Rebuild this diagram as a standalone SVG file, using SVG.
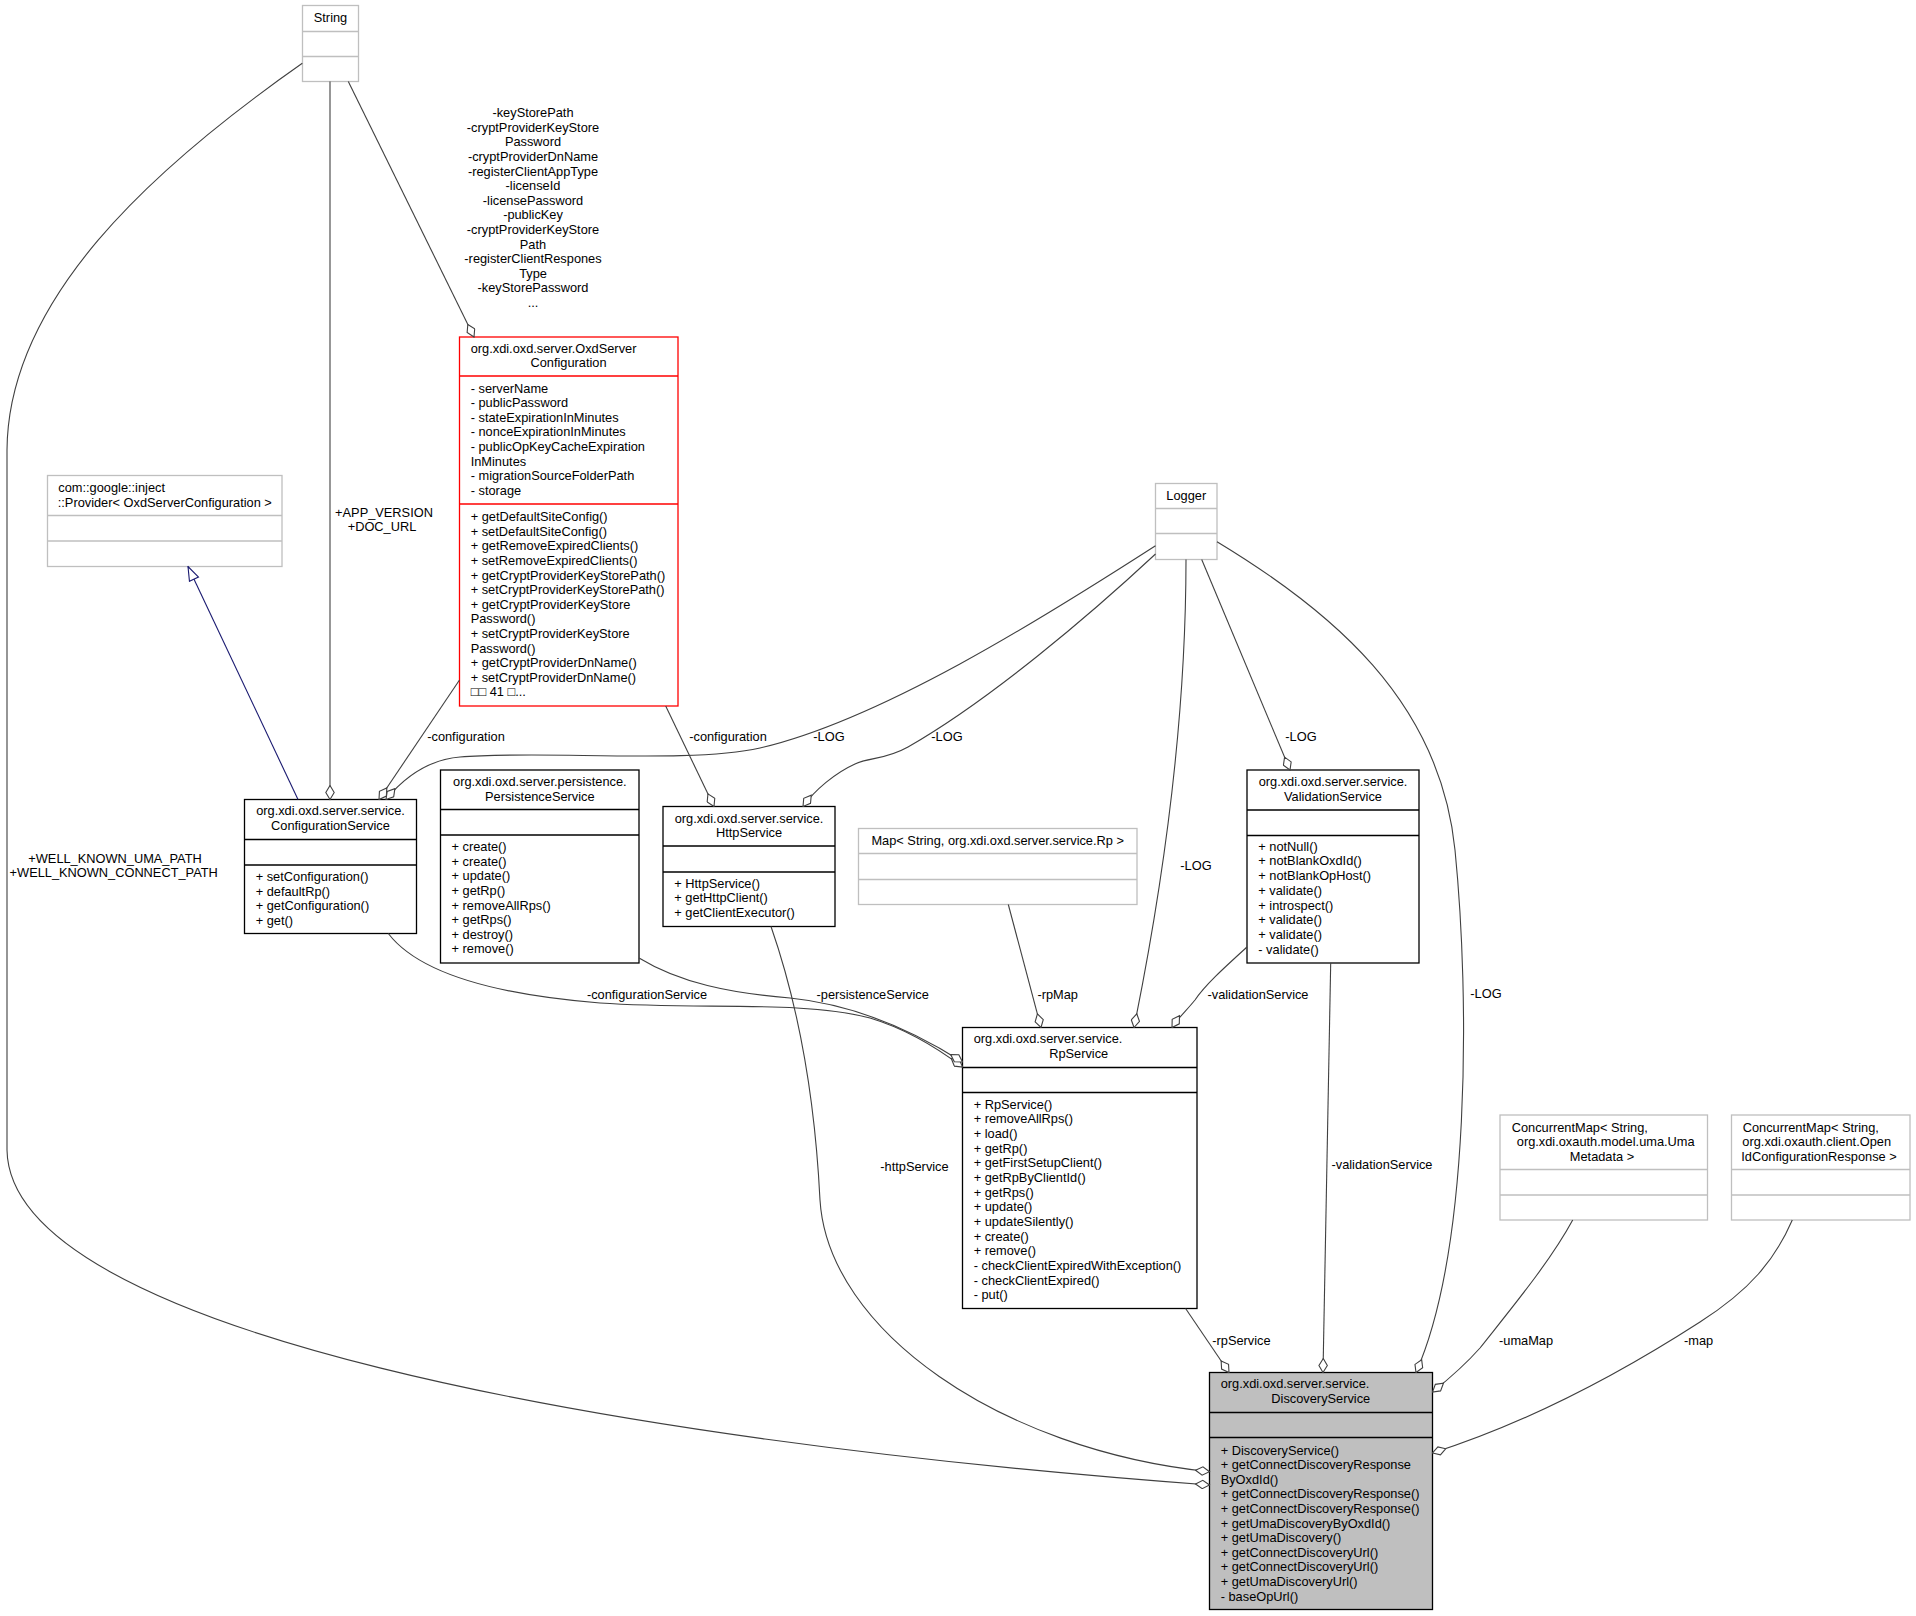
<svg xmlns="http://www.w3.org/2000/svg" width="1916" height="1616" viewBox="0 0 1916 1616">
<style>
text{font-family:"Liberation Sans",Arial,sans-serif;font-size:12.8px;fill:#000}
.m{text-anchor:middle}
.g{fill:#fff;stroke:#bfbfbf;stroke-width:1.3}
.gl{stroke:#bfbfbf;stroke-width:1.3}
.b{fill:#fff;stroke:#000;stroke-width:1.3}
.bl{stroke:#000;stroke-width:1.3}
.r{fill:#fff;stroke:#ff0000;stroke-width:1.3}
.rl{stroke:#ff0000;stroke-width:1.3}
.ds{fill:#bfbfbf;stroke:#000;stroke-width:1.3}
.e{fill:none;stroke:#404040;stroke-width:1.1;marker-end:url(#dia)}
.inh{fill:none;stroke:#191970;stroke-width:1.1;marker-end:url(#tri)}
</style>
<defs>
<marker id="dia" viewBox="0 0 16 10" markerWidth="16" markerHeight="10" refX="15" refY="5" orient="auto" markerUnits="userSpaceOnUse"><path d="M1,5 L8,0.8 L15,5 L8,9.2 Z" fill="#fff" stroke="#404040" stroke-width="1.1"/></marker>
<marker id="tri" viewBox="0 0 16 12" markerWidth="16" markerHeight="12" refX="15" refY="6" orient="auto" markerUnits="userSpaceOnUse"><path d="M1,1 L15,6 L1,11 Z" fill="#fff" stroke="#191970" stroke-width="1.1"/></marker>
</defs>
<rect width="1916" height="1616" fill="#fff"/>

<g id="n-string">
<rect class="g" x="302.5" y="5.5" width="56" height="76"/>
<line class="gl" x1="302.5" y1="31.5" x2="358.5" y2="31.5"/>
<line class="gl" x1="302.5" y1="56.5" x2="358.5" y2="56.5"/>
<text class="m" x="330.5" y="22">String</text>
</g>

<g id="n-oxdserverconfiguration">
<rect class="r" x="459.5" y="337" width="218.5" height="369"/>
<line class="rl" x1="459.5" y1="376" x2="678" y2="376"/>
<line class="rl" x1="459.5" y1="504" x2="678" y2="504"/>
<text x="470.7" y="352.5">org.xdi.oxd.server.OxdServer</text>
<text class="m" x="568.5" y="367">Configuration</text>
<text x="470.7" y="392.5">- serverName</text>
<text x="470.7" y="407.1">- publicPassword</text>
<text x="470.7" y="421.7">- stateExpirationInMinutes</text>
<text x="470.7" y="436.3">- nonceExpirationInMinutes</text>
<text x="470.7" y="450.9">- publicOpKeyCacheExpiration</text>
<text x="470.7" y="465.5">InMinutes</text>
<text x="470.7" y="480.1">- migrationSourceFolderPath</text>
<text x="470.7" y="494.7">- storage</text>
<text x="470.7" y="521.2">+ getDefaultSiteConfig()</text>
<text x="470.7" y="535.8">+ setDefaultSiteConfig()</text>
<text x="470.7" y="550.4">+ getRemoveExpiredClients()</text>
<text x="470.7" y="565">+ setRemoveExpiredClients()</text>
<text x="470.7" y="579.6">+ getCryptProviderKeyStorePath()</text>
<text x="470.7" y="594.2">+ setCryptProviderKeyStorePath()</text>
<text x="470.7" y="608.8">+ getCryptProviderKeyStore</text>
<text x="470.7" y="623.4">Password()</text>
<text x="470.7" y="638">+ setCryptProviderKeyStore</text>
<text x="470.7" y="652.6">Password()</text>
<text x="470.7" y="667.2">+ getCryptProviderDnName()</text>
<text x="470.7" y="681.8">+ setCryptProviderDnName()</text>
<text x="470.7" y="696.4">□□ 41 □...</text>
</g>

<g id="n-provider">
<rect class="g" x="47.5" y="475.5" width="234.5" height="91"/>
<line class="gl" x1="47.5" y1="515.5" x2="282" y2="515.5"/>
<line class="gl" x1="47.5" y1="541" x2="282" y2="541"/>
<text x="58.3" y="492.2">com::google::inject</text>
<text class="m" x="164.8" y="506.6">::Provider&lt; OxdServerConfiguration &gt;</text>
</g>

<g id="n-configurationservice">
<rect class="b" x="244.5" y="799.5" width="172" height="134"/>
<line class="bl" x1="244.5" y1="839.5" x2="416.5" y2="839.5"/>
<line class="bl" x1="244.5" y1="865" x2="416.5" y2="865"/>
<text class="m" x="330.5" y="815">org.xdi.oxd.server.service.</text>
<text class="m" x="330.5" y="829.5">ConfigurationService</text>
<text x="255.7" y="881.2">+ setConfiguration()</text>
<text x="255.7" y="895.8">+ defaultRp()</text>
<text x="255.7" y="910.4">+ getConfiguration()</text>
<text x="255.7" y="925">+ get()</text>
</g>

<g id="n-persistenceservice">
<rect class="b" x="440.5" y="770" width="198.5" height="193"/>
<line class="bl" x1="440.5" y1="809.5" x2="639" y2="809.5"/>
<line class="bl" x1="440.5" y1="835" x2="639" y2="835"/>
<text class="m" x="539.8" y="786">org.xdi.oxd.server.persistence.</text>
<text class="m" x="539.8" y="800.5">PersistenceService</text>
<text x="451.5" y="851.2">+ create()</text>
<text x="451.5" y="865.8">+ create()</text>
<text x="451.5" y="880.4">+ update()</text>
<text x="451.5" y="895">+ getRp()</text>
<text x="451.5" y="909.6">+ removeAllRps()</text>
<text x="451.5" y="924.2">+ getRps()</text>
<text x="451.5" y="938.8">+ destroy()</text>
<text x="451.5" y="953.4">+ remove()</text>
</g>

<g id="n-httpservice">
<rect class="b" x="663" y="806.5" width="172" height="120"/>
<line class="bl" x1="663" y1="846" x2="835" y2="846"/>
<line class="bl" x1="663" y1="872" x2="835" y2="872"/>
<text class="m" x="749" y="822.5">org.xdi.oxd.server.service.</text>
<text class="m" x="749" y="837">HttpService</text>
<text x="674.3" y="887.8">+ HttpService()</text>
<text x="674.3" y="902.4">+ getHttpClient()</text>
<text x="674.3" y="917">+ getClientExecutor()</text>
</g>

<g id="n-logger">
<rect class="g" x="1155.5" y="483.5" width="61.5" height="76"/>
<line class="gl" x1="1155.5" y1="508.5" x2="1217" y2="508.5"/>
<line class="gl" x1="1155.5" y1="533.5" x2="1217" y2="533.5"/>
<text class="m" x="1186.3" y="499.5">Logger</text>
</g>

<g id="n-validationservice">
<rect class="b" x="1247" y="770" width="172" height="193"/>
<line class="bl" x1="1247" y1="810" x2="1419" y2="810"/>
<line class="bl" x1="1247" y1="835.5" x2="1419" y2="835.5"/>
<text class="m" x="1333" y="786">org.xdi.oxd.server.service.</text>
<text class="m" x="1333" y="800.5">ValidationService</text>
<text x="1258.3" y="850.5">+ notNull()</text>
<text x="1258.3" y="865.2">+ notBlankOxdId()</text>
<text x="1258.3" y="880">+ notBlankOpHost()</text>
<text x="1258.3" y="894.7">+ validate()</text>
<text x="1258.3" y="909.5">+ introspect()</text>
<text x="1258.3" y="924.2">+ validate()</text>
<text x="1258.3" y="939">+ validate()</text>
<text x="1258.3" y="953.7">- validate()</text>
</g>

<g id="n-map">
<rect class="g" x="858.5" y="828.5" width="278.5" height="76"/>
<line class="gl" x1="858.5" y1="853.5" x2="1137" y2="853.5"/>
<line class="gl" x1="858.5" y1="879.5" x2="1137" y2="879.5"/>
<text class="m" x="997.7" y="845.2">Map&lt; String, org.xdi.oxd.server.service.Rp &gt;</text>
</g>

<g id="n-rpservice">
<rect class="b" x="962.5" y="1027.5" width="234.5" height="281"/>
<line class="bl" x1="962.5" y1="1067.5" x2="1197" y2="1067.5"/>
<line class="bl" x1="962.5" y1="1092.5" x2="1197" y2="1092.5"/>
<text x="973.7" y="1043">org.xdi.oxd.server.service.</text>
<text class="m" x="1078.7" y="1057.5">RpService</text>
<text x="973.7" y="1108.8">+ RpService()</text>
<text x="973.7" y="1123.4">+ removeAllRps()</text>
<text x="973.7" y="1138.1">+ load()</text>
<text x="973.7" y="1152.7">+ getRp()</text>
<text x="973.7" y="1167.4">+ getFirstSetupClient()</text>
<text x="973.7" y="1182">+ getRpByClientId()</text>
<text x="973.7" y="1196.7">+ getRps()</text>
<text x="973.7" y="1211.3">+ update()</text>
<text x="973.7" y="1226">+ updateSilently()</text>
<text x="973.7" y="1240.6">+ create()</text>
<text x="973.7" y="1255.3">+ remove()</text>
<text x="973.7" y="1269.9">- checkClientExpiredWithException()</text>
<text x="973.7" y="1284.6">- checkClientExpired()</text>
<text x="973.7" y="1299.2">- put()</text>
</g>

<g id="n-discoveryservice">
<rect class="ds" x="1209.5" y="1372.5" width="223" height="237"/>
<line class="bl" x1="1209.5" y1="1412.5" x2="1432.5" y2="1412.5"/>
<line class="bl" x1="1209.5" y1="1437.5" x2="1432.5" y2="1437.5"/>
<text x="1220.7" y="1388">org.xdi.oxd.server.service.</text>
<text class="m" x="1320.8" y="1402.5">DiscoveryService</text>
<text x="1220.7" y="1454.5">+ DiscoveryService()</text>
<text x="1220.7" y="1469.1">+ getConnectDiscoveryResponse</text>
<text x="1220.7" y="1483.7">ByOxdId()</text>
<text x="1220.7" y="1498.3">+ getConnectDiscoveryResponse()</text>
<text x="1220.7" y="1512.9">+ getConnectDiscoveryResponse()</text>
<text x="1220.7" y="1527.5">+ getUmaDiscoveryByOxdId()</text>
<text x="1220.7" y="1542.1">+ getUmaDiscovery()</text>
<text x="1220.7" y="1556.7">+ getConnectDiscoveryUrl()</text>
<text x="1220.7" y="1571.3">+ getConnectDiscoveryUrl()</text>
<text x="1220.7" y="1585.9">+ getUmaDiscoveryUrl()</text>
<text x="1220.7" y="1600.5">- baseOpUrl()</text>
</g>

<g id="n-concurrentmap-uma">
<rect class="g" x="1500" y="1115" width="207.5" height="105"/>
<line class="gl" x1="1500" y1="1169.5" x2="1707.5" y2="1169.5"/>
<line class="gl" x1="1500" y1="1195" x2="1707.5" y2="1195"/>
<text x="1511.7" y="1131.8">ConcurrentMap&lt; String,</text>
<text class="m" x="1605.7" y="1146.4">org.xdi.oxauth.model.uma.Uma</text>
<text class="m" x="1602" y="1161">Metadata &gt;</text>
</g>

<g id="n-concurrentmap-openid">
<rect class="g" x="1731.5" y="1115" width="178.5" height="105"/>
<line class="gl" x1="1731.5" y1="1169.5" x2="1910" y2="1169.5"/>
<line class="gl" x1="1731.5" y1="1195" x2="1910" y2="1195"/>
<text x="1742.7" y="1131.8">ConcurrentMap&lt; String,</text>
<text class="m" x="1816.7" y="1146.4">org.xdi.oxauth.client.Open</text>
<text class="m" x="1819" y="1161">IdConfigurationResponse &gt;</text>
</g>

<g id="connectors">
<path class="e" d="M302.3,63.3 C150,170 8,300 7,450 L7,1150 C10,1330 600,1440 1209.5,1485"/>
<path class="e" d="M330,81.5 L330,799.5"/>
<path class="e" d="M348.3,81.5 L474,337"/>
<path class="inh" d="M298,799.5 L188,566.5"/>
<path class="e" d="M459.5,680 L379,799.5"/>
<path class="e" d="M665.7,706 L714,806.5"/>
<path class="e" d="M1155.5,545.7 C1040,620 880,720 760,748 C690,764 540,750 460,757 C425,760 402,780 386,799.5"/>
<path class="e" d="M1155.5,554 C1090,615 990,700 908,747 C885,760 870,757 855,764 C835,773 815,790 803,806.5"/>
<path class="e" d="M1186,559.5 C1186,700 1170,850 1134,1027.5"/>
<path class="e" d="M1201.7,559.5 L1290,770"/>
<path class="e" d="M1217,541.7 C1330,610 1440,700 1455,850 C1470,1000 1470,1250 1416,1372.5"/>
<path class="e" d="M1247,947 C1225,967 1205,985 1195,1000 C1187,1010 1178,1018 1172,1027.5"/>
<path class="e" d="M1330.7,963 L1323,1372.5"/>
<path class="e" d="M1008.3,904.5 L1041,1027.5"/>
<path class="e" d="M388.3,933.5 C420,975 500,995 600,1003 C700,1010 800,1000 870,1018 C910,1030 940,1050 962.5,1067"/>
<path class="e" d="M639,958 C680,983 730,993 790,998 C860,1005 920,1035 962.5,1062"/>
<path class="e" d="M771,926.5 C800,1010 815,1100 820,1200 C828,1330 1000,1450 1209.5,1471.7"/>
<path class="e" d="M1185.6,1308.5 L1229,1372.5"/>
<path class="e" d="M1572.7,1220 C1550,1262 1510,1310 1480,1348 C1465,1365 1450,1378 1432.5,1392"/>
<path class="e" d="M1792.3,1220 C1775,1260 1750,1290 1700,1322 C1610,1380 1520,1425 1432.5,1453"/>

<text class="m" x="533" y="117.2">-keyStorePath</text>
<text class="m" x="533" y="131.8">-cryptProviderKeyStore</text>
<text class="m" x="533" y="146.4">Password</text>
<text class="m" x="533" y="161">-cryptProviderDnName</text>
<text class="m" x="533" y="175.6">-registerClientAppType</text>
<text class="m" x="533" y="190.2">-licenseId</text>
<text class="m" x="533" y="204.8">-licensePassword</text>
<text class="m" x="533" y="219.4">-publicKey</text>
<text class="m" x="533" y="234">-cryptProviderKeyStore</text>
<text class="m" x="533" y="248.6">Path</text>
<text class="m" x="533" y="263.2">-registerClientRespones</text>
<text class="m" x="533" y="277.8">Type</text>
<text class="m" x="533" y="292.4">-keyStorePassword</text>
<text class="m" x="533" y="307">...</text>
<text class="m" x="384" y="516.5">+APP_VERSION</text>
<text class="m" x="382" y="531">+DOC_URL</text>
<text class="m" x="115" y="862.8">+WELL_KNOWN_UMA_PATH</text>
<text class="m" x="113.7" y="876.8">+WELL_KNOWN_CONNECT_PATH</text>
<text class="m" x="466" y="741.2">-configuration</text>
<text class="m" x="728" y="741.2">-configuration</text>
<text class="m" x="829" y="741.2">-LOG</text>
<text class="m" x="947" y="741.2">-LOG</text>
<text class="m" x="1301" y="740.5">-LOG</text>
<text class="m" x="1196" y="869.5">-LOG</text>
<text class="m" x="1486" y="997.5">-LOG</text>
<text class="m" x="647" y="999.2">-configurationService</text>
<text class="m" x="872.7" y="998.8">-persistenceService</text>
<text class="m" x="1057.7" y="999.2">-rpMap</text>
<text class="m" x="1258" y="999.2">-validationService</text>
<text class="m" x="914.5" y="1171.2">-httpService</text>
<text class="m" x="1382" y="1169">-validationService</text>
<text x="1212.3" y="1344.5">-rpService</text>
<text x="1499" y="1344.5">-umaMap</text>
<text x="1684" y="1344.5">-map</text>
</g>
</svg>
